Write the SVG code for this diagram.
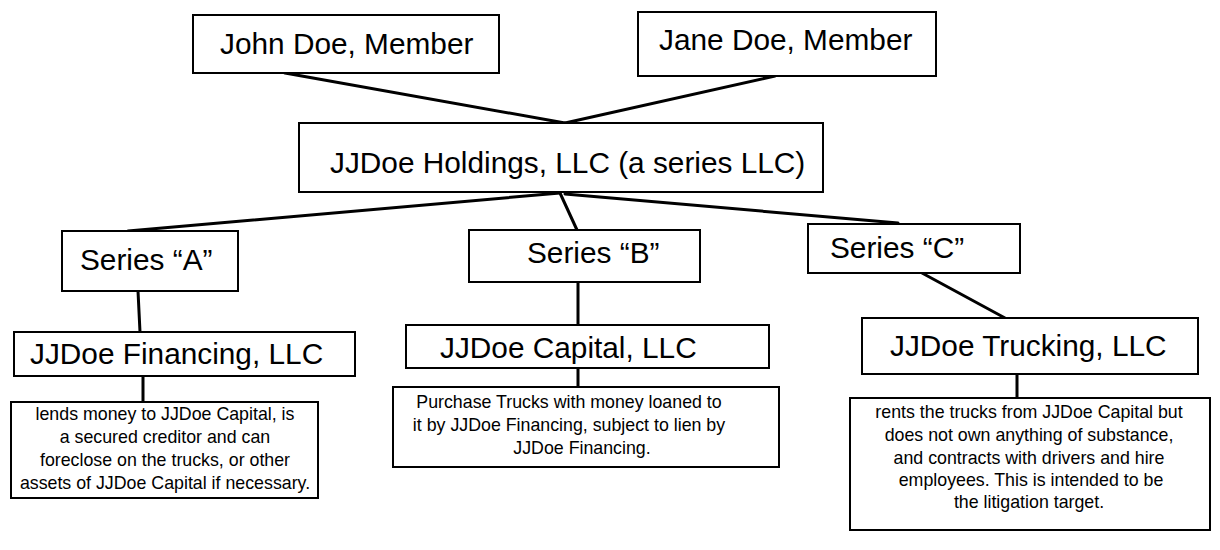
<svg xmlns="http://www.w3.org/2000/svg" width="1220" height="550" viewBox="0 0 1220 550">
<style>
.box{fill:#fff;stroke:#000;stroke-width:2}
.big{font-family:"Liberation Sans",Arial,sans-serif;font-size:29.8px;fill:#000}
.small{font-family:"Liberation Sans",Arial,sans-serif;font-size:17.8px;fill:#000;text-anchor:middle}
.conn line{stroke:#000;stroke-width:3;stroke-linecap:round}
</style>
<rect width="1220" height="550" fill="#fff"/>
<g class="conn" id="connectors">
<line x1="285" y1="73" x2="565" y2="123"/>
<line x1="775" y1="76" x2="565" y2="123"/>
<line x1="560" y1="193" x2="128" y2="231"/>
<line x1="560" y1="193" x2="577" y2="230"/>
<line x1="565" y1="194" x2="898" y2="223"/>
<line x1="138" y1="291" x2="140" y2="332"/>
<line x1="578" y1="282" x2="578" y2="325"/>
<line x1="922" y1="273" x2="1005" y2="318"/>
<line x1="143" y1="376" x2="143" y2="402"/>
<line x1="578" y1="368" x2="578" y2="387"/>
<line x1="1017" y1="374" x2="1017" y2="398"/>
</g>
<g id="john"><rect class="box" x="193" y="15" width="306" height="58"/><text class="big" x="220" y="54">John Doe, Member</text></g>
<g id="jane"><rect class="box" x="638" y="12" width="298" height="64"/><text class="big" x="659" y="50">Jane Doe, Member</text></g>
<g id="holdings"><rect class="box" x="299" y="123" width="524" height="69"/><text class="big" x="330" y="173">JJDoe Holdings, LLC (a series LLC)</text></g>
<g id="seriesA"><rect class="box" x="62" y="231" width="176" height="60"/><text class="big" x="80" y="270">Series “A”</text></g>
<g id="seriesB"><rect class="box" x="469" y="230" width="231" height="52"/><text class="big" x="527" y="263">Series “B”</text></g>
<g id="seriesC"><rect class="box" x="808" y="224" width="212" height="49"/><text class="big" x="830" y="258">Series “C”</text></g>
<g id="financing"><rect class="box" x="14" y="332" width="341" height="44"/><text class="big" x="30" y="364">JJDoe Financing, LLC</text></g>
<g id="capital"><rect class="box" x="406" y="325" width="363" height="43"/><text class="big" x="440" y="358">JJDoe Capital, LLC</text></g>
<g id="trucking"><rect class="box" x="862" y="318" width="336" height="56"/><text class="big" x="890" y="356">JJDoe Trucking, LLC</text></g>
<g id="financingDesc"><rect class="box" x="11" y="402" width="307" height="96"/>
<text class="small" x="165" y="420">lends money to JJDoe Capital, is</text>
<text class="small" x="165" y="443">a secured creditor and can</text>
<text class="small" x="165" y="466">foreclose on the trucks, or other</text>
<text class="small" x="165" y="489">assets of JJDoe Capital if necessary.</text></g>
<g id="capitalDesc"><rect class="box" x="393" y="387" width="386" height="80"/>
<text class="small" x="569" y="408">Purchase Trucks with money loaned to</text>
<text class="small" x="569" y="431">it by JJDoe Financing, subject to lien by</text>
<text class="small" x="582" y="454">JJDoe Financing.</text></g>
<g id="truckingDesc"><rect class="box" x="850" y="398" width="360" height="132"/>
<text class="small" x="1029" y="418">rents the trucks from JJDoe Capital but</text>
<text class="small" x="1029" y="441">does not own anything of substance,</text>
<text class="small" x="1029" y="464">and contracts with drivers and hire</text>
<text class="small" x="1031" y="486">employees. This is intended to be</text>
<text class="small" x="1029" y="508">the litigation target.</text></g>
</svg>
